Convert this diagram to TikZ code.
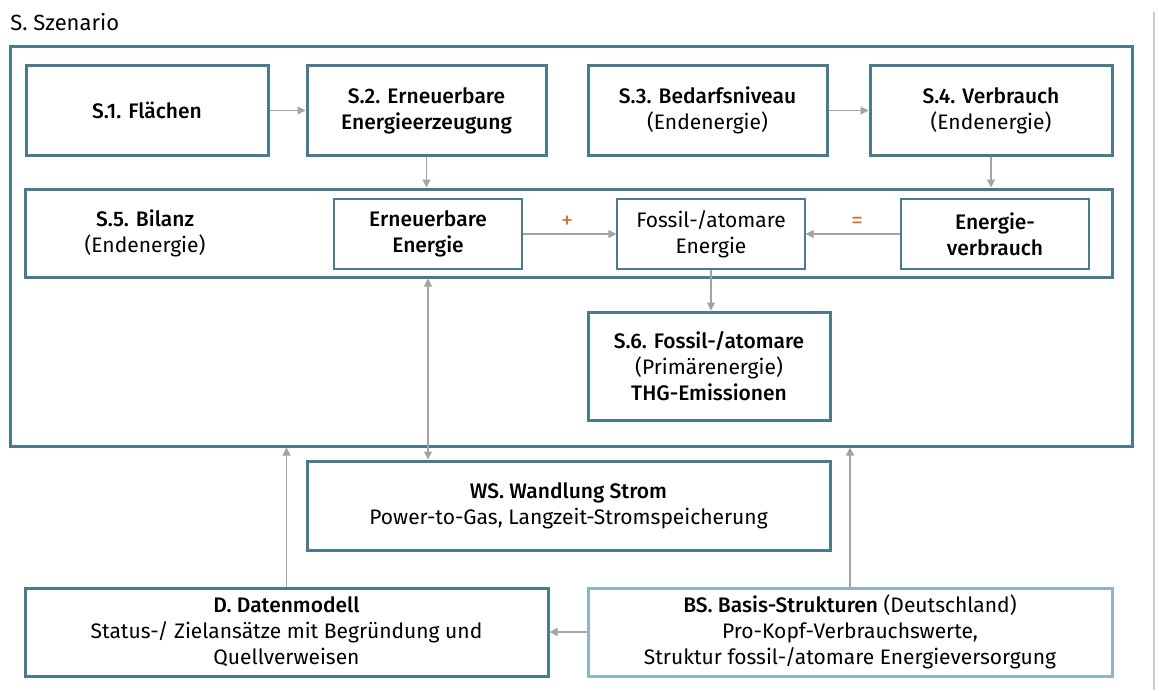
\documentclass[tikz,border=0pt]{standalone}
\usepackage{fontspec}
\setmainfont{Fira Sans}[BoldFont = {Fira Sans Medium}]
\usetikzlibrary{arrows.meta}

\definecolor{teal}{HTML}{4A7A8C}
\definecolor{lightteal}{HTML}{8FB5C3}
\definecolor{arrowgrey}{HTML}{A3A3A3}
\definecolor{signorange}{HTML}{D9703A}

\tikzset{
	mainbox/.style = {rectangle, draw = teal, line width = 1.5pt, align = center, inner sep = 0pt},
	innerbox/.style = {rectangle, draw = teal, line width = 0.6pt, align = center, inner sep = 0pt},
	conn/.style = {draw = arrowgrey, line width = 0.6pt, -{Triangle[length = 4pt, width = 4pt]}},
	sign/.style = {text = signorange, font = \fontsize{12}{14}\selectfont}
}

\begin{document}
\begin{tikzpicture}[x = 0.5pt, y = -0.5pt, font = \fontsize{10.5}{13}\selectfont]

	\useasboundingbox (0, 0) rectangle (1159, 690);
	\draw [line width = 0.75pt, black!20] (1154, 12) -- (1154, 690);

	\node [anchor = west, inner sep = 0pt, font = \fontsize{11}{13}\selectfont] (title) at (10, 22) {S. Szenario};
	\node [mainbox, minimum width = 561pt, minimum height = 199.5pt] (S) at (571, 246.5) {};

	\node [mainbox, minimum width = 121pt, minimum height = 44.5pt] (S1) at (147, 110.5) {\bfseries S.1. Flächen};
	\node [mainbox, minimum width = 119.5pt, minimum height = 44.5pt] (S2) at (426.5, 110.5) {\bfseries S.2. Erneuerbare\\\bfseries Energieerzeugung};
	\node [mainbox, minimum width = 119.5pt, minimum height = 44.5pt] (S3) at (707.5, 110.5) {\bfseries S.3. Bedarfsniveau\\(Endenergie)};
	\node [mainbox, minimum width = 121pt, minimum height = 44.5pt] (S4) at (991, 110.5) {\bfseries S.4. Verbrauch\\(Endenergie)};

	\node [mainbox, minimum width = 543.5pt, minimum height = 44pt] (S5) at (568.5, 233) {};
	\node [align = center, inner sep = 0pt] (S5label) at (145, 233) {\bfseries S.5. Bilanz\\(Endenergie)};
	\node [innerbox, minimum width = 94pt, minimum height = 35pt] (EE) at (428, 234) {\bfseries Erneuerbare\\\bfseries Energie};
	\node [innerbox, minimum width = 94pt, minimum height = 35pt] (FA) at (711, 234) {Fossil-/atomare\\Energie};
	\node [innerbox, minimum width = 94pt, minimum height = 35pt] (EV) at (995, 234) {\bfseries Energie-\\\bfseries verbrauch};
	\node [sign] (plus) at (567, 222) {+};
	\node [sign] (equals) at (857, 223) {=};

	\node [mainbox, minimum width = 121pt, minimum height = 54pt] (S6) at (709, 366) {\bfseries S.6. Fossil-/atomare\\(Primärenergie)\\\bfseries THG-Emissionen};

	\node [mainbox, minimum width = 261.5pt, minimum height = 44.5pt] (WS) at (568.5, 505.5) {\bfseries WS. Wandlung Strom\\Power-to-Gas, Langzeit-Stromspeicherung};
	\node [mainbox, minimum width = 261.5pt, minimum height = 44pt] (D) at (286.5, 632) {\bfseries D. Datenmodell\\Status-/ Zielansätze mit Begründung und\\Quellverweisen};
	\node [mainbox, draw = lightteal, minimum width = 262pt, minimum height = 44pt] (BS) at (850, 632) {{\bfseries BS. Basis-Strukturen} (Deutschland)\\Pro-Kopf-Verbrauchswerte,\\Struktur fossil-/atomare Energieversorgung};

	\draw [conn] (S1) -- (S2);
	\draw [conn] (S3) -- (S4);
	\draw [conn] (S2.south) -- (S2.south |- S5.north);
	\draw [conn] (S4.south) -- (S4.south |- S5.north);
	\draw [conn] (EE) -- (FA);
	\draw [conn] (EV) -- (FA);
	\draw [conn] (FA.south) -- (FA.south |- S6.north);
	\draw [conn, {Triangle[length = 4pt, width = 4pt]}-{Triangle[length = 4pt, width = 4pt]}] (EE.south |- S5.south) -- (EE.south |- WS.north);
	\draw [conn] (D.north) -- (D.north |- S.south);
	\draw [conn] (BS.north) -- (BS.north |- S.south);
	\draw [conn] (BS) -- (D);

\end{tikzpicture}
\end{document}
